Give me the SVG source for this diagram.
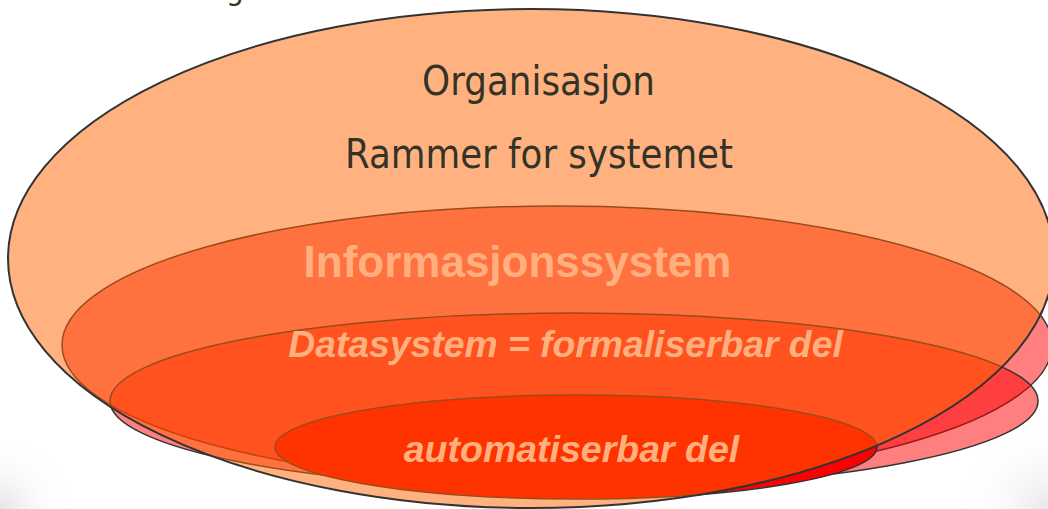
<svg xmlns="http://www.w3.org/2000/svg" width="1048" height="509" viewBox="0 0 1048 509">
  <defs>
    <radialGradient id="shadeLeft" cx="0" cy="509" r="70" gradientUnits="userSpaceOnUse">
      <stop offset="0" stop-color="#e4e4e4"/>
      <stop offset="1" stop-color="#ffffff" stop-opacity="0"/>
    </radialGradient>
    <radialGradient id="shadeRight" cx="1048" cy="509" r="90" gradientUnits="userSpaceOnUse">
      <stop offset="0" stop-color="#e8e8e8"/>
      <stop offset="1" stop-color="#ffffff" stop-opacity="0"/>
    </radialGradient>
  </defs>
  <style>
    .inner { fill: #ff0000; fill-opacity: 0.5; stroke: #333333; stroke-width: 1.5; }
    .core { fill: #ff0000; stroke: #333333; stroke-width: 1.5; }
    .outer { fill: #ff6600; fill-opacity: 0.5; stroke: #333333; stroke-width: 2; }
    .dark { font-family: "DejaVu Sans", "Liberation Sans", sans-serif; fill: #333328; }
    .light { font-family: "Liberation Sans", Arial, sans-serif; font-weight: bold; fill: #ffb07e; }
  </style>

  <rect x="0" y="0" width="1048" height="509" fill="#ffffff"/>
  <rect x="0" y="400" width="120" height="109" fill="url(#shadeLeft)"/>
  <rect x="900" y="380" width="148" height="129" fill="url(#shadeRight)"/>

  <!-- descender of the title line above the frame -->
  <text class="dark" x="226" y="0" font-size="28">g</text>

  <!-- inner layers sit underneath the translucent organisation ellipse -->
  <g id="informasjonssystem">
    <ellipse class="inner" cx="557" cy="345" rx="495" ry="139"/>
  </g>
  <g id="datasystem">
    <ellipse class="inner" cx="574" cy="401" rx="464" ry="88"/>
  </g>
  <g id="automatiserbar">
    <ellipse class="core" cx="576" cy="447" rx="301" ry="52"/>
  </g>
  <g id="organisasjon">
    <ellipse class="outer" cx="531" cy="258.5" rx="523" ry="249.5"/>
  </g>

  <g id="labels">
    <text class="dark" x="538.5" y="95" font-size="40" text-anchor="middle" textLength="233" lengthAdjust="spacingAndGlyphs">Organisasjon</text>
    <text class="dark" x="539" y="168" font-size="40" text-anchor="middle" textLength="388" lengthAdjust="spacingAndGlyphs">Rammer for systemet</text>
    <text class="light" x="517.5" y="277" font-size="44" text-anchor="middle">Informasjonssystem</text>
    <text class="light" x="565.5" y="357" font-size="37.3" font-style="italic" text-anchor="middle">Datasystem = formaliserbar del</text>
    <text class="light" x="571.5" y="462" font-size="37.5" font-style="italic" text-anchor="middle">automatiserbar del</text>
  </g>
</svg>
